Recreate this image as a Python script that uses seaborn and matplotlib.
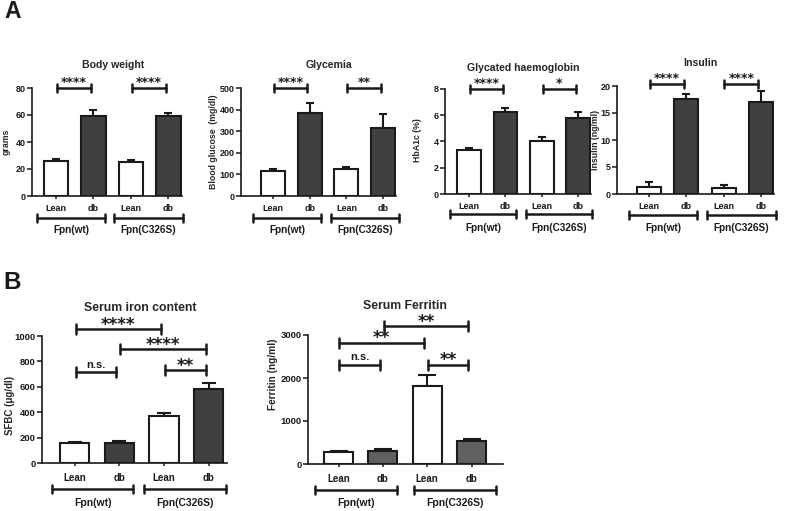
import matplotlib
matplotlib.use("Agg")
import matplotlib.pyplot as plt
import matplotlib.transforms as mtransforms
import numpy as np
import pandas as pd
import seaborn as sns

# ---------------- data ----------------
categories = ["Lean_wt", "db_wt", "Lean_C326S", "db_C326S"]
xtick_labels = ["Lean", "db", "Lean", "db"]
group_labels = ["Fpn(wt)", "Fpn(C326S)"]

bw_mean = [26.2, 59.5, 25.4, 59.3]
bw_err = [1.2, 4.2, 1.3, 2.4]

gly_mean = [116, 386, 124, 316]
gly_err = [10, 43, 12, 62]

hba_mean = [3.38, 6.25, 4.06, 5.79]
hba_err = [0.14, 0.30, 0.25, 0.46]

ins_mean = [1.3, 17.6, 1.1, 17.0]
ins_err = [0.85, 0.9, 0.5, 2.1]

iron_mean = [155, 160, 373, 582]
iron_err = [14, 15, 19, 45]

fer_mean = [270, 292, 1810, 545]
fer_err = [40, 52, 255, 45]

# significance: (x1, x2, y, label)
bw_sig = [(0, 1, 80, "****"), (2, 3, 80, "****")]
gly_sig = [(0, 1, 500, "****"), (2, 3, 500, "**")]
hba_sig = [(0, 1, 8.0, "****"), (2, 3, 8.0, "*")]
ins_sig = [(0, 1, 20.4, "****"), (2, 3, 20.4, "****")]
iron_sig = [(0, 2, 1053, "****"), (1, 3, 897, "****"),
            (0, 1, 716, "n.s."), (2, 3, 731, "**")]
fer_sig = [(1, 3, 3209, "**"), (0, 2, 2814, "**"),
           (0, 1, 2304, "n.s."), (2, 3, 2304, "**")]

# ---------------- style ----------------
sns.set_style("ticks")
plt.rcParams['font.family'] = ['Liberation Sans', 'DejaVu Sans']
plt.rcParams['font.weight'] = 'bold'
plt.rcParams['axes.labelweight'] = 'bold'
plt.rcParams['axes.titleweight'] = 'bold'

W, H = 787, 511
fig = plt.figure(figsize=(W / 100, H / 100), dpi=100)
K = "#1a1a1a"


def add_ax(x0, ytop, x1, ybot):
    return fig.add_axes([x0 / W, 1 - ybot / H, (x1 - x0) / W, (ybot - ytop) / H])


def fy(px):
    return 1 - px / H


def panel(box, xlim, ylim, yticks, means, errs, dbcol, title, title_xy, ylabel,
          ylabel_xy, sig, grp_spans, grp_y, grp_lbl_y, fs_tick, fs_xl, fs_grp,
          fs_title, fs_ylab, fs_star, fs_ns, capsize, sig_cap, star_off, xl_pad, bw=0.65):
    x0, ytop, x1, ybot = box
    ax = add_ax(x0, ytop, x1, ybot)
    df = pd.DataFrame({"cond": categories, "val": means})
    pal = {categories[0]: "white", categories[1]: dbcol,
           categories[2]: "white", categories[3]: dbcol}
    sns.barplot(data=df, x="cond", y="val", hue="cond", palette=pal, legend=False,
                order=categories, width=bw, edgecolor=K, linewidth=1.5,
                saturation=1, errorbar=None, ax=ax, zorder=3)
    xs = np.arange(len(categories))
    ax.errorbar(xs, means, yerr=[np.zeros(len(errs)), errs], fmt="none",
                ecolor=K, elinewidth=1.5, capsize=capsize, capthick=1.5, zorder=2)
    ax.set_xlim(*xlim)
    ax.set_ylim(*ylim)
    ax.set_yticks(yticks)
    ax.set_xticks(xs)
    ax.set_xticklabels(xtick_labels, fontsize=fs_xl, fontweight="bold")
    ax.tick_params(axis="y", labelsize=fs_tick, length=3.5, width=1.1, pad=1.2, colors=K)
    ax.tick_params(axis="x", length=2.5, width=1.1, pad=xl_pad, colors=K)
    for lab in ax.get_yticklabels():
        lab.set_fontweight("bold")
    sns.despine(ax=ax)
    for s in ("left", "bottom"):
        ax.spines[s].set_linewidth(1.2)
        ax.spines[s].set_color(K)
    ax.set_xlabel("")
    ax.patch.set_alpha(0)

    # title
    tx, ty = title_xy
    ax.set_title(title, x=(tx - x0) / (x1 - x0), y=(ybot - ty) / (ybot - ytop),
                 va="center", pad=0, fontsize=fs_title, fontweight="bold")
    # y label
    ax.set_ylabel(ylabel, fontsize=fs_ylab, fontweight="bold")
    ax.yaxis.label.set_verticalalignment("center")
    ax.yaxis.set_label_coords(ylabel_xy[0] / W, fy(ylabel_xy[1]), transform=fig.transFigure)

    # blended transforms: x data, y figure
    tr = mtransforms.blended_transform_factory(ax.transData, fig.transFigure)

    def ypx(yval):
        return ybot - (yval - ylim[0]) / (ylim[1] - ylim[0]) * (ybot - ytop)

    # group brackets
    for (a, b), lbl in zip(grp_spans, group_labels):
        ax.plot([a, b], [fy(grp_y)] * 2, color=K, lw=1.8, transform=tr, clip_on=False)
        for xx in (a, b):
            ax.plot([xx, xx], [fy(grp_y - 4), fy(grp_y + 4)], color=K, lw=1.8,
                    transform=tr, clip_on=False)
        ax.text((a + b) / 2, fy(grp_lbl_y), lbl, transform=tr, ha="center",
                va="center", fontsize=fs_grp, fontweight="bold", color=K)

    # significance brackets
    for a, b, yv, lbl in sig:
        yp = ypx(yv)
        a2, b2 = a + 0.02, b - 0.07
        ax.plot([a2, b2], [fy(yp)] * 2, color=K, lw=1.8, transform=tr, clip_on=False)
        for xx in (a2, b2):
            ax.plot([xx, xx], [fy(yp - sig_cap), fy(yp + sig_cap)], color=K, lw=1.8,
                    transform=tr, clip_on=False)
        if lbl == "n.s.":
            ax.text((a2 + b2) / 2, fy(yp - 2.5), lbl, transform=tr, ha="center",
                    va="bottom", fontsize=fs_ns, fontweight="bold", color=K)
        else:
            ax.text((a2 + b2) / 2, fy(yp - star_off), lbl, transform=tr, ha="center",
                    va="center", fontsize=fs_star, fontweight="bold", color=K,
                    family=["DejaVu Sans"])
    return ax


# ---------------- Panel A ----------------
A_fs = dict(fs_tick=6.5, fs_xl=6.5, fs_grp=7.2, fs_title=7.6, fs_ylab=6.3,
            fs_star=9, fs_ns=7, capsize=3, sig_cap=4, star_off=5.5, xl_pad=3)

panel((32, 88, 181.6, 196), (-0.64, 3.35), (0, 80), [0, 20, 40, 60, 80],
      bw_mean, bw_err, "#404040", "Body weight", (113, 65), "grams", (6, 142),
      bw_sig, [(-0.51, 1.31), (1.55, 3.39)], 218, 230, **A_fs)

panel((241, 88, 396, 196), (-0.87, 3.35), (0, 500), [0, 100, 200, 300, 400, 500],
      gly_mean, gly_err, "#404040", "Glycemia", (329, 65), "Blood glucose  (mg/dl)",
      (213, 142), gly_sig, [(-0.545, 1.31), (1.58, 3.43)], 218, 230, **A_fs)

panel((445, 89, 591, 194), (-0.66, 3.35), (0, 8), [0, 2, 4, 6, 8],
      hba_mean, hba_err, "#404040", "Glycated haemoglobin", (523, 68), "HbA1c (%)",
      (417, 140), hba_sig, [(-0.52, 1.29), (1.56, 3.37)], 214, 228, **A_fs)

panel((617, 86, 774, 194), (-0.86, 3.35), (0, 20), [0, 5, 10, 15, 20],
      ins_mean, ins_err, "#404040", "Insulin", (700, 63), "Insulin (ng/ml)",
      (596, 140), ins_sig, [(-0.54, 1.29), (1.55, 3.40)], 215, 228, **A_fs)

# ---------------- Panel B ----------------
B_fs = dict(fs_tick=6.8, fs_xl=7, fs_grp=7.5, fs_title=8.8, fs_star=12, fs_ns=8,
            sig_cap=5, star_off=4.5, xl_pad=4.5)

panel((42, 336, 227, 463), (-0.73, 3.41), (0, 1000), [0, 200, 400, 600, 800, 1000],
      iron_mean, iron_err, "#404040", "Serum iron content", (140, 308),
      "SFBC (\u03bcg/dl)", (10, 405), iron_sig, [(-0.50, 1.31), (1.55, 3.39)],
      489, 503, fs_ylab=7, capsize=5, **B_fs)

panel((308, 335, 503, 464), (-0.69, 3.71), (0, 3000), [0, 1000, 2000, 3000],
      fer_mean, fer_err, "#606060", "Serum Ferritin", (405, 306),
      "Ferritin (ng/ml)", (273, 374), fer_sig, [(-0.53, 1.32), (1.70, 3.56)],
      490, 503, fs_ylab=7.3, capsize=6.5, **B_fs)

fig.text(12.5 / W, fy(12), "A", ha="center", va="center", fontsize=16.5,
         fontweight="bold", color=K)
fig.text(12.5 / W, fy(282.5), "B", ha="center", va="center", fontsize=17.5,
         fontweight="bold", color=K)

fig.savefig("out.png", dpi=100, facecolor="white")
